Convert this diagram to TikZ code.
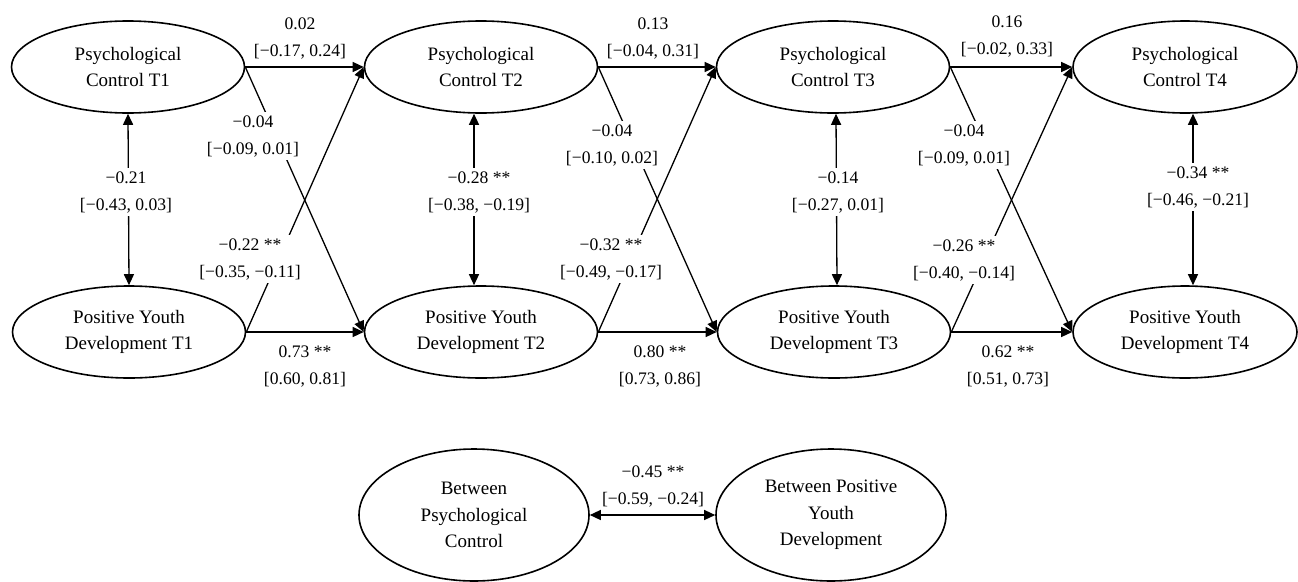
\documentclass[tikz,border=0pt]{standalone}
\usepackage{fontspec}
\setmainfont{Liberation Serif}
\usetikzlibrary{shapes.geometric,arrows.meta,calc}
\tikzset{
  lat/.style={ellipse,draw,line width=1.6pt,minimum width=233pt,minimum height=92pt,inner sep=0pt,align=center,
    font=\fontsize{19}{26.5}\selectfont},
  betw/.style={lat,minimum width=230pt,minimum height=132pt},
  path/.style={line width=1.3pt,-{Triangle[length=11pt,width=10pt]}},
  cov/.style={line width=1.3pt,{Triangle[length=11pt,width=10pt]}-{Triangle[length=11pt,width=10pt]}},
  lab/.style={align=center,inner sep=2pt,font=\fontsize{17.6}{27}\selectfont},
  wlab/.style={lab,fill=white,inner sep=3pt}
}
\begin{document}
\begin{tikzpicture}[x=1pt,y=-1pt]
\useasboundingbox (0,0) rectangle (1298,581);
% latent nodes
\node[lat] (PC1) at (128,67) {Psychological\\Control T1};
\node[lat] (PC2) at (481,67) {Psychological\\Control T2};
\node[lat] (PC3) at (833,67) {Psychological\\Control T3};
\node[lat,minimum width=224pt] (PC4) at (1185,67) {Psychological\\Control T4};
\node[lat] (PY1) at (129,332) {Positive Youth\\Development T1};
\node[lat] (PY2) at (481,332) {Positive Youth\\Development T2};
\node[lat] (PY3) at (834,332) {Positive Youth\\Development T3};
\node[lat,minimum width=224pt] (PY4) at (1185,332) {Positive Youth\\Development T4};
\node[betw] (BPC) at (474,515) {Between\\Psychological\\Control};
\node[betw] (BPY) at (831,515) {Between Positive\\Youth\\Development};
% autoregressive paths
\draw[path] (PC1.east) -- (PC2.west);
\draw[path] (PC2.east) -- (PC3.west);
\draw[path] (PC3.east) -- (PC4.west);
\draw[path] (PY1.east) -- (PY2.west);
\draw[path] (PY2.east) -- (PY3.west);
\draw[path] (PY3.east) -- (PY4.west);
% cross-lagged paths
\draw[path] (PC1.east) -- (PY2.west);
\draw[path] (PY1.east) -- (PC2.west);
\draw[path] (PC2.east) -- (PY3.west);
\draw[path] (PY2.east) -- (PC3.west);
\draw[path] (PC3.east) -- (PY4.west);
\draw[path] (PY3.east) -- (PC4.west);
% covariances
\draw[cov] (PC1.south) -- (PY1.north);
\draw[cov] ($(PC2.south)+(-7,0)$) -- ($(PY2.north)+(-7,0)$);
\draw[cov] ($(PC3.south)+(3,0)$) -- ($(PY3.north)+(3,0)$);
\draw[cov] ($(PC4.south)+(8,0)$) -- ($(PY4.north)+(8,0)$);
\draw[cov] (BPC.east) -- (BPY.west);
% labels
\node[lab] (a12) at (300,38) {0.02\\{[}−0.17, 0.24{]}};
\node[lab] (a23) at (653,38) {0.13\\{[}−0.04, 0.31{]}};
\node[lab] (a34) at (1007,36) {0.16\\{[}−0.02, 0.33{]}};
\node[lab] (b12) at (305,366) {0.73 **\\{[}0.60, 0.81{]}};
\node[lab] (b23) at (660,366) {0.80 **\\{[}0.73, 0.86{]}};
\node[lab] (b34) at (1008,366) {0.62 **\\{[}0.51, 0.73{]}};
\node[wlab] (c12) at (253,136) {−0.04\\{[}−0.09, 0.01{]}};
\node[wlab] (c23) at (612,145) {−0.04\\{[}−0.10, 0.02{]}};
\node[wlab] (c34) at (964,145) {−0.04\\{[}−0.09, 0.01{]}};
\node[wlab] (d12) at (250,259) {−0.22 **\\{[}−0.35, −0.11{]}};
\node[wlab] (d23) at (611,259) {−0.32 **\\{[}−0.49, −0.17{]}};
\node[wlab] (d34) at (964,260) {−0.26 **\\{[}−0.40, −0.14{]}};
\node[wlab] (v1) at (126,192) {−0.21\\{[}−0.43, 0.03{]}};
\node[wlab] (v2) at (479,192) {−0.28 **\\{[}−0.38, −0.19{]}};
\node[wlab] (v3) at (838,192) {−0.14\\{[}−0.27, 0.01{]}};
\node[wlab] (v4) at (1198,187) {−0.34 **\\{[}−0.46, −0.21{]}};
\node[lab] (bw) at (653,486) {−0.45 **\\{[}−0.59, −0.24{]}};
\end{tikzpicture}
\end{document}
